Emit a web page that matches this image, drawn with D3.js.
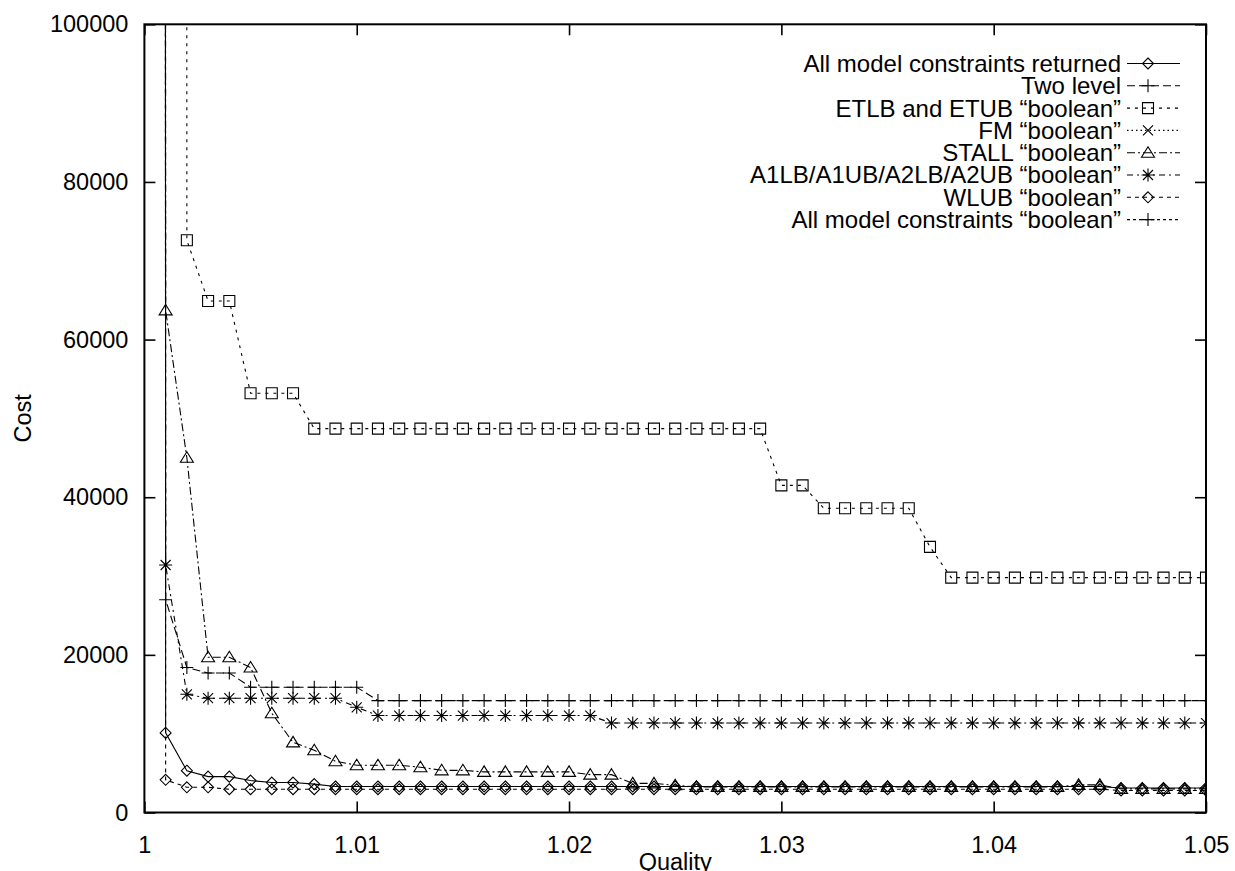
<!DOCTYPE html>
<html>
<head>
<meta charset="utf-8">
<script src="https://cdn.jsdelivr.net/npm/d3@7"></script>
<style>
  html, body { margin: 0; padding: 0; background: #fff; }
  svg { display: block; }
  text { font-family: "Liberation Sans", Arial, Helvetica, sans-serif; fill: #000; }
</style>
</head>
<body>
<script>
// ---------- DATA ----------
const quality = [1.000,1.001,1.002,1.003,1.004,1.005,1.006,1.007,1.008,1.009,
  1.010,1.011,1.012,1.013,1.014,1.015,1.016,1.017,1.018,1.019,
  1.020,1.021,1.022,1.023,1.024,1.025,1.026,1.027,1.028,1.029,
  1.030,1.031,1.032,1.033,1.034,1.035,1.036,1.037,1.038,1.039,
  1.040,1.041,1.042,1.043,1.044,1.045,1.046,1.047,1.048,1.049,1.050];

// values above 100000 are off the top of the chart (clipped)
const allReturned = [1e7,10100,5300,4550,4550,4050,3800,3800,3600,3300,
  3300,3300,3300,3300,3300,3300,3300,3300,3300,3300,
  3300,3300,3300,3300,3300,3300,3300,3300,3300,3300,
  3300,3300,3300,3300,3300,3300,3300,3300,3300,3300,
  3300,3300,3300,3300,3300,3300,3100,3100,3100,3100,3100];

const twoLevel = [1e7,27000,18400,17700,17700,15900,15900,15900,15900,15900,
  15900,14200,14200,14200,14200,14200,14200,14200,14200,14200,
  14200,14200,14200,14200,14200,14200,14200,14200,14200,14200,
  14200,14200,14200,14200,14200,14200,14200,14200,14200,14200,
  14200,14200,14200,14200,14200,14200,14200,14200,14200,14200,14200];

const etlbBool = [1e7,1e7,72600,64900,64900,53200,53200,53200,48700,48700,
  48700,48700,48700,48700,48700,48700,48700,48700,48700,48700,
  48700,48700,48700,48700,48700,48700,48700,48700,48700,48700,
  41500,41500,38600,38600,38600,38600,38600,33700,29800,29800,
  29800,29800,29800,29800,29800,29800,29800,29800,29800,29800,29800];

const fmBool = [1e7,1e7];

const stallBool = [1e7,63700,45000,19700,19700,18400,12600,8900,7900,6500,
  6000,6000,6000,5750,5350,5350,5150,5150,5150,5150,
  5150,4800,4800,3700,3700,3450,3250,3250,3250,3250,
  3250,3250,3250,3250,3250,3250,3250,3250,3250,3250,
  3250,3250,3250,3250,3500,3500,3000,3000,3000,3000,3000];

const a1lbBool = [1e7,31400,15000,14500,14500,14500,14500,14500,14500,14500,
  13350,12300,12300,12300,12300,12300,12300,12300,12300,12300,
  12300,12300,11350,11350,11350,11350,11350,11350,11350,11350,
  11350,11350,11350,11350,11350,11350,11350,11350,11350,11350,
  11350,11350,11350,11350,11350,11350,11350,11350,11350,11350,11350];

const wlubBool = [1e7,4150,3200,3200,2950,2950,2950,2950,2950,2950,
  2950,2950,2950,2950,2950,2950,2950,2950,2950,2950,
  2950,2950,2950,2950,2950,2950,2950,2950,2950,2950,
  2950,2950,2950,2950,2950,2950,2950,2950,2950,2950,
  2950,2950,2950,2950,2950,2950,2800,2800,2800,2800,2800];

const allBool = [1e7,1e7];

const seriesNames = [
  "All model constraints returned",
  "Two level",
  "ETLB and ETUB \u201cboolean\u201d",
  "FM \u201cboolean\u201d",
  "STALL \u201cboolean\u201d",
  "A1LB/A1UB/A2LB/A2UB \u201cboolean\u201d",
  "WLUB \u201cboolean\u201d",
  "All model constraints \u201cboolean\u201d"
];
const seriesValues = [allReturned, twoLevel, etlbBool, fmBool, stallBool, a1lbBool, wlubBool, allBool];

const xTicks = [1, 1.01, 1.02, 1.03, 1.04, 1.05];
const xTickLabels = ["1", "1.01", "1.02", "1.03", "1.04", "1.05"];
const yTicks = [0, 20000, 40000, 60000, 80000, 100000];
const yTickLabels = ["0", "20000", "40000", "60000", "80000", "100000"];

// ---------- STYLE ----------
const W = 1235, H = 871;
const L = 144.4, R = 1206, T = 24.3, B = 812.5;
const dashes = [null, "8,4", "3,5", "1.5,3", "8,3,2,3", "6,4,2,4", "4,4", "3,3"];
const markers = ["diamond", "plus", "square", "cross", "triangle", "star", "diamond", "plus"];
const FONT = 23.5;

function markerPath(type) {
  switch (type) {
    case "diamond": return "M0,-5.5L5.5,0L0,5.5L-5.5,0Z";
    case "square": return "M-5.5,-5.5H5.5V5.5H-5.5Z";
    case "triangle": return "M0,-6L6.5,4.5H-6.5Z";
    case "plus": return "M-6.5,0H6.5M0,-6.5V6.5";
    case "cross": return "M-5,-5L5,5M5,-5L-5,5";
    case "star": return "M-6.5,0H6.5M0,-6.5V6.5M-5,-5L5,5M5,-5L-5,5";
  }
}

const svg = d3.select("body").append("svg").attr("width", W).attr("height", H);
svg.append("rect").attr("width", W).attr("height", H).attr("fill", "#fff");

const x = d3.scaleLinear().domain([1, 1.05]).range([L, R]);
const y = d3.scaleLinear().domain([0, 100000]).range([B, T]);

svg.append("clipPath").attr("id", "plotclip")
  .append("rect").attr("x", L).attr("y", T).attr("width", R - L).attr("height", B - T);

// axes (ticks inward on all sides)
const gB = svg.append("g").attr("transform", `translate(0,${B})`)
  .call(d3.axisBottom(x).tickValues(xTicks).tickSize(-11).tickPadding(24)
    .tickFormat((d, i) => xTickLabels[i]));
const gL = svg.append("g").attr("transform", `translate(${L},0)`)
  .call(d3.axisLeft(y).tickValues(yTicks).tickSize(-11).tickPadding(16)
    .tickFormat((d, i) => yTickLabels[i]));
const gT = svg.append("g").attr("transform", `translate(0,${T})`)
  .call(d3.axisTop(x).tickValues(xTicks).tickSize(-11).tickFormat(""));
const gR = svg.append("g").attr("transform", `translate(${R},0)`)
  .call(d3.axisRight(y).tickValues(yTicks).tickSize(-11).tickFormat(""));
[gB, gL, gT, gR].forEach(g => {
  g.select(".domain").remove();
  g.selectAll(".tick line").attr("stroke", "#000").attr("stroke-width", 1.6);
  g.selectAll(".tick text").style("font-size", FONT + "px")
    .style("font-family", '"Liberation Sans", Arial, sans-serif').attr("fill", "#000");
});

// data lines
const plot = svg.append("g").attr("clip-path", "url(#plotclip)");
seriesValues.forEach((vals, si) => {
  const pts = vals.map((v, i) => [quality[i], v]).filter(d => d[1] != null);
  const line = d3.line().x(d => x(d[0])).y(d => y(d[1]));
  plot.append("path").attr("d", line(pts))
    .attr("fill", "none").attr("stroke", "#000").attr("stroke-width", 1.1)
    .attr("stroke-dasharray", dashes[si]);
  plot.selectAll(null).data(pts.filter(d => d[1] <= 100000)).enter()
    .append("path")
    .attr("transform", d => `translate(${x(d[0])},${y(d[1])})`)
    .attr("d", markerPath(markers[si]))
    .attr("fill", "none").attr("stroke", "#000").attr("stroke-width", 1.1);
});

// frame
svg.append("rect").attr("x", L).attr("y", T).attr("width", R - L).attr("height", B - T)
  .attr("fill", "none").attr("stroke", "#000").attr("stroke-width", 2);

// axis titles
svg.append("text").attr("x", (L + R) / 2).attr("y", 870).attr("text-anchor", "middle")
  .style("font-size", FONT + "px").text("Quality");
svg.append("text").attr("transform", `translate(31,${(T + B) / 2}) rotate(-90)`)
  .attr("text-anchor", "middle").style("font-size", FONT + "px").text("Cost");

// legend
const leg = svg.append("g");
seriesNames.forEach((name, i) => {
  const cy = 63.5 + i * 22.3;
  leg.append("text").attr("x", 1121).attr("y", cy).attr("dy", "0.35em")
    .attr("text-anchor", "end").style("font-size", "24px").text(name);
  leg.append("line").attr("x1", 1127).attr("x2", 1180).attr("y1", cy).attr("y2", cy)
    .attr("stroke", "#000").attr("stroke-width", 1.1).attr("stroke-dasharray", dashes[i]);
  leg.append("path").attr("transform", `translate(1148,${cy})`)
    .attr("d", markerPath(markers[i])).attr("fill", "none")
    .attr("stroke", "#000").attr("stroke-width", 1.1);
});
</script>
</body>
</html>
